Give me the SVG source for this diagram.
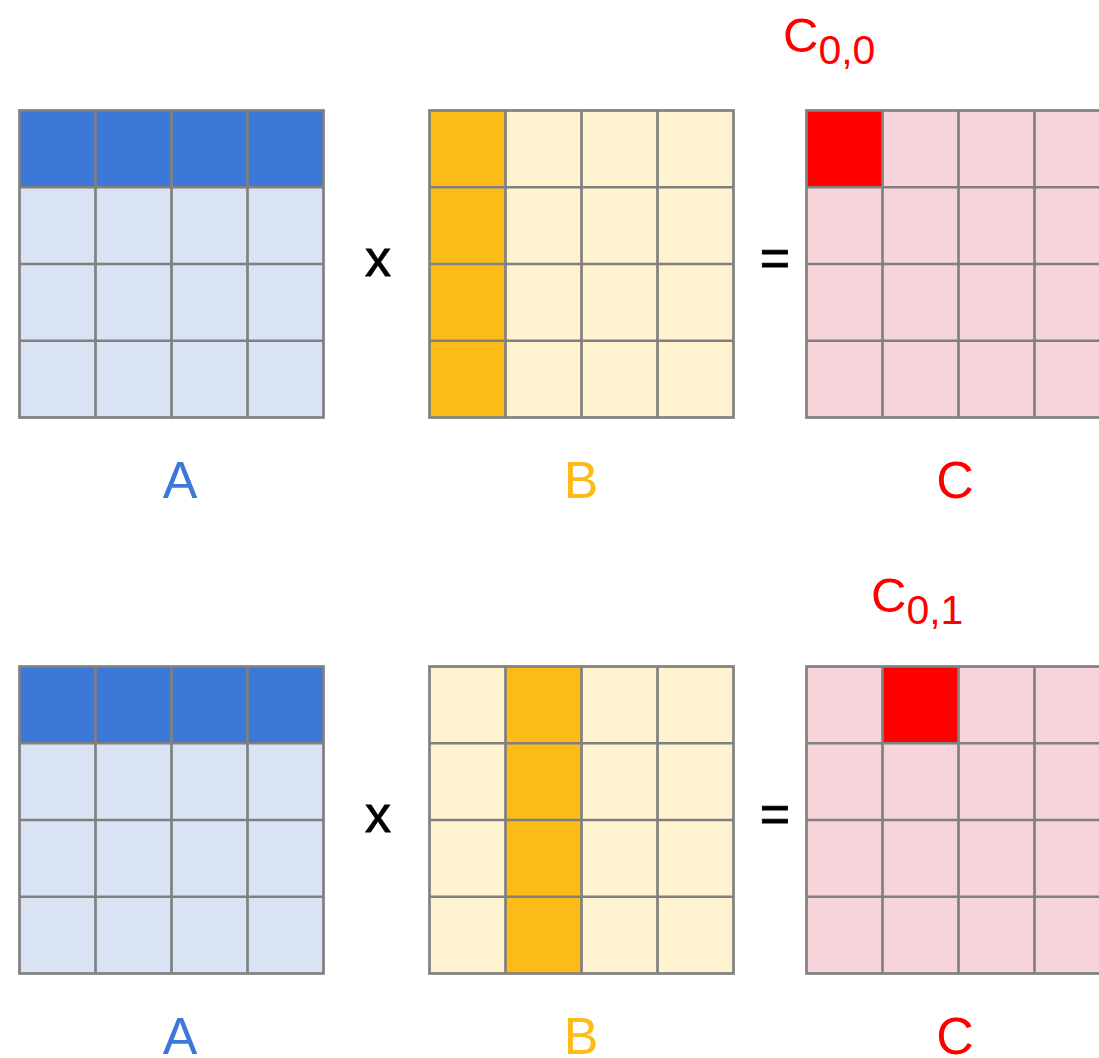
<svg xmlns="http://www.w3.org/2000/svg" width="1099" height="1058" viewBox="0 0 1099 1058">
<style>
.g{stroke:#808080;stroke-width:2.7;}
.al{fill:#dae3f3}.ad{fill:#3c78d8}
.bl{fill:#fff2cf}.bd{fill:#fdbb18}
.cl{fill:#f7d4da}.cd{fill:#ff0000}
text{font-family:"Liberation Sans",Arial,sans-serif;}
.lab{font-size:52px;text-anchor:middle}
.op{font-size:52px;text-anchor:middle;fill:#000;stroke:#000;stroke-width:0.8}
</style>
<defs>
<g id="grid" fill="none" class="g">
<rect x="0" y="0" width="304" height="307"/>
<line x1="76" y1="0" x2="76" y2="307"/>
<line x1="152" y1="0" x2="152" y2="307"/>
<line x1="228" y1="0" x2="228" y2="307"/>
<line x1="0" y1="76.75" x2="304" y2="76.75"/>
<line x1="0" y1="153.5" x2="304" y2="153.5"/>
<line x1="0" y1="230.25" x2="304" y2="230.25"/>
</g>
</defs>

<g id="A1">
<rect class="al" x="19.5" y="110.5" width="304" height="307"/>
<rect class="ad" x="19.5" y="110.5" width="304" height="76.75"/>
<use href="#grid" x="19.5" y="110.5"/>
<text class="lab" x="180" y="498" fill="#3c78d8">A</text>
</g>
<g id="times1"><text class="op" x="378" y="276">x</text></g>
<g id="B1">
<rect class="bl" x="429.5" y="110.5" width="304" height="307"/>
<rect class="bd" x="429.5" y="110.5" width="76" height="307"/>
<use href="#grid" x="429.5" y="110.5"/>
<text class="lab" x="581" y="498" fill="#fdbb18">B</text>
</g>
<g id="eq1"><text class="op" x="775" y="276">=</text></g>
<g id="C1">
<rect class="cl" x="806.5" y="110.5" width="304" height="307"/>
<rect class="cd" x="806.5" y="110.5" width="76" height="76.75"/>
<use href="#grid" x="806.5" y="110.5"/>
<text class="lab" x="955" y="498" fill="#ff0000">C</text>
<text x="783" y="51.5" font-size="49" fill="#ff0000">C<tspan font-size="41" dy="12.5">0,0</tspan></text>
</g>

<g id="A2">
<rect class="al" x="19.5" y="666.5" width="304" height="307"/>
<rect class="ad" x="19.5" y="666.5" width="304" height="76.75"/>
<use href="#grid" x="19.5" y="666.5"/>
<text class="lab" x="180" y="1054" fill="#3c78d8">A</text>
</g>
<g id="times2"><text class="op" x="378" y="832">x</text></g>
<g id="B2">
<rect class="bl" x="429.5" y="666.5" width="304" height="307"/>
<rect class="bd" x="505.5" y="666.5" width="76" height="307"/>
<use href="#grid" x="429.5" y="666.5"/>
<text class="lab" x="581" y="1054" fill="#fdbb18">B</text>
</g>
<g id="eq2"><text class="op" x="775" y="832">=</text></g>
<g id="C2">
<rect class="cl" x="806.5" y="666.5" width="304" height="307"/>
<rect class="cd" x="882.5" y="666.5" width="76" height="76.75"/>
<use href="#grid" x="806.5" y="666.5"/>
<text class="lab" x="955" y="1054" fill="#ff0000">C</text>
<text x="871" y="611.5" font-size="49" fill="#ff0000">C<tspan font-size="41" dy="12.5">0,1</tspan></text>
</g>
<g id="connectors"></g>
</svg>
